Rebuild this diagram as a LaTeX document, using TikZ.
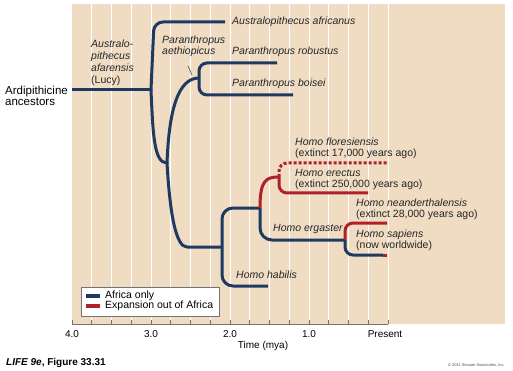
\documentclass[tikz,border=0pt]{standalone}
\usepackage{fontspec}
\setmainfont{Liberation Sans}
\definecolor{panel}{HTML}{EFDCC3}
\definecolor{navy}{HTML}{1F3A60}
\definecolor{outred}{HTML}{B0202A}
\begin{document}
\begin{tikzpicture}[x=1pt, y=-1pt,
  branch/.style={line width=3pt, navy, line join=round, rounded corners=9pt},
  outbranch/.style={branch, outred},
  taxon/.style={anchor=west, inner sep=0pt, align=left, text=black!85,
    font=\fontsize{10.5}{11}\selectfont},
  ticklbl/.style={inner sep=0pt, font=\fontsize{10}{12}\selectfont}]
  \useasboundingbox (0,0) rectangle (513,371);

  % Background panel and time grid
  \fill[panel] (72,4) rectangle (505,324);
  \foreach \k in {1,...,16}
    \draw[white, line width=0.8pt] (72+19.75*\k,4) -- (72+19.75*\k,324);

  % Axis
  \draw[black!55, line width=0.8pt] (72,324) -- (388,324);
  \foreach \k in {0,...,16}
    \draw[black!55, line width=0.6pt] (72+19.75*\k,324) -- ++(0,-4);
  \node[ticklbl] (t4) at (72,334) {4.0};
  \node[ticklbl] (t3) at (151,334) {3.0};
  \node[ticklbl] (t2) at (230,334) {2.0};
  \node[ticklbl] (t1) at (309,334) {1.0};
  \node[ticklbl] (t0) at (385,334) {Present};
  \node[ticklbl] (tlabel) at (263,346) {Time (mya)};

  % Branch points and tips
  \coordinate (root) at (72,90);
  \coordinate (j1) at (151,90);
  \coordinate (afr) at (225,22);
  \coordinate (j2) at (167,163);
  \coordinate (j3) at (199,78);
  \coordinate (rob) at (277,63);
  \coordinate (boi) at (293,95);
  \coordinate (j4) at (222,247);
  \coordinate (hab) at (268,286);
  \coordinate (j5) at (260,208);
  \coordinate (j6) at (279,177);
  \coordinate (flo) at (387,163);
  \coordinate (ere) at (368,193);
  \coordinate (j7) at (345,240);
  \coordinate (nea) at (387,223);
  \coordinate (sapred) at (383,255);
  \coordinate (sap) at (387,255);

  % Australopithecines and Paranthropus
  \draw[branch] (root) -- (j1);
  \draw[branch] (j1) -- (154,22) -- (afr);
  \draw[branch] (j1) .. controls (153,135) and (154,163) .. (j2);
  \draw[branch] (j2) .. controls (169,110) and (178,78) .. (j3);
  \draw[branch, rounded corners=8pt] (j3) |- (rob);
  \draw[branch, rounded corners=8pt] (j3) |- (boi);

  % Homo
  \draw[branch] (j2) .. controls (170,215) and (176,247) .. (196,247) -- (j4);
  \draw[branch, rounded corners=11pt] (j4) |- (j5);
  \draw[branch, rounded corners=11pt] (j4) |- (hab);
  \draw[outbranch] (j5) .. controls (260,180) and (266,177) .. (j6);
  \draw[outbranch, rounded corners=8pt, dash pattern=on 3pt off 2pt] (j6) |- (flo);
  \draw[outbranch, rounded corners=8pt] (j6) |- (ere);
  \draw[branch, rounded corners=12pt] (j5) |- (j7);
  \draw[outbranch, rounded corners=8pt] (j7) |- (nea);
  \draw[branch, rounded corners=8pt] (j7) |- (sapred);
  \draw[outbranch] (sapred) -- (sap);

  % Labels
  \node[taxon, text=black, font=\fontsize{11.5}{11}\selectfont] (ardi) at (5,95.5) {Ardipithicine\\ancestors};
  \node[taxon, font=\fontsize{10.5}{12}\selectfont] (lucy) at (91,63)
    {\textit{Australo-}\\\textit{pithecus}\\\textit{afarensis}\\(Lucy)};
  \node[taxon] (afrlbl) at (232,22) {\textit{Australopithecus africanus}};
  \node[taxon] (aethlbl) at (162,46.5) {\textit{Paranthropus}\\\textit{aethiopicus}};
  \coordinate (aethA) at (188,66);
  \coordinate (aethB) at (192,75);
  \draw[black!70, line width=0.6pt] (aethA) -- (aethB);
  \node[taxon] (roblbl) at (232,52) {\textit{Paranthropus robustus}};
  \node[taxon] (boilbl) at (232,83.5) {\textit{Paranthropus boisei}};
  \node[taxon] (flolbl) at (295,148) {\textit{Homo floresiensis}\\(extinct 17,000 years ago)};
  \node[taxon] (erelbl) at (295,179) {\textit{Homo erectus}\\(extinct 250,000 years ago)};
  \node[taxon] (nealbl) at (356,209) {\textit{Homo neanderthalensis}\\(extinct 28,000 years ago)};
  \node[taxon] (saplbl) at (356,240.5) {\textit{Homo sapiens}\\(now worldwide)};
  \node[taxon] (erglbl) at (273,229) {\textit{Homo ergaster}};
  \node[taxon] (hablbl) at (236,275) {\textit{Homo habilis}};

  % Legend
  \draw[fill=white, draw=black!55, line width=0.6pt] (81,287) rectangle (219,316);
  \draw[navy, line width=3.5pt] (86,296) -- (100,296);
  \draw[outred, line width=3.5pt] (86,306) -- (100,306);
  \node[taxon, text=black, font=\fontsize{10.5}{12}\selectfont] (keyafr) at (105,296) {Africa only};
  \node[taxon, text=black, font=\fontsize{10.5}{12}\selectfont] (keyout) at (105,306) {Expansion out of Africa};

  % Credits
  \node[anchor=west, inner sep=0pt, font=\fontsize{10}{12}\selectfont\bfseries] (fig) at (6,363)
    {\textit{LIFE 9e}, Figure 33.31};
  \node[anchor=east, inner sep=0pt, text=black!70, font=\fontsize{4}{5}\selectfont] (copy) at (505,365)
    {\textcopyright\ 2011 Sinauer Associates, Inc.};
\end{tikzpicture}
\end{document}
